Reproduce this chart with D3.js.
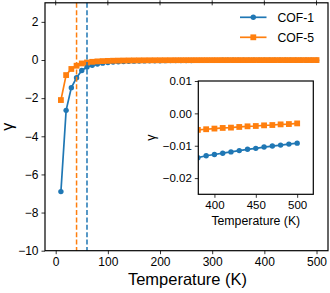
<!DOCTYPE html>
<html>
<head>
<meta charset="utf-8">
<script src="https://cdn.jsdelivr.net/npm/d3@7"></script>
<style>
  body { margin: 0; background: #fff; }
  svg { font-family: "Liberation Sans", Arial, sans-serif; }
</style>
</head>
<body>
<div id="chart"></div>
<script>
// Data
const temps = d3.range(10, 501, 10);
const cof1 = [-6.9, -2.64, -1.45, -0.93, -0.55, -0.37, -0.28, -0.21, -0.165, -0.135,
  -0.11, -0.093, -0.08, -0.069, -0.061, -0.054, -0.048, -0.043, -0.039, -0.036,
  -0.033, -0.030, -0.028, -0.026, -0.0245, -0.023, -0.0215, -0.0203, -0.0192, -0.0182,
  -0.0173, -0.0165, -0.0158, -0.0153, -0.0148, -0.0144, -0.0141, -0.0137, -0.0131, -0.0127,
  -0.0123, -0.0119, -0.0115, -0.0111, -0.0108, -0.0104, -0.0101, -0.0098, -0.0095, -0.0092];
const cof5 = [-2.1, -0.79, -0.47, -0.3, -0.18, -0.13, -0.095, -0.072, -0.057, -0.046,
  -0.038, -0.032, -0.027, -0.023, -0.020, -0.018, -0.016, -0.0145, -0.013, -0.012,
  -0.011, -0.0102, -0.0095, -0.0089, -0.0084, -0.0079, -0.0075, -0.0071, -0.0068, -0.0065,
  -0.0063, -0.0061, -0.0059, -0.0057, -0.0055, -0.0054, -0.0052, -0.0051, -0.0049, -0.0047,
  -0.0045, -0.0044, -0.0042, -0.0040, -0.0039, -0.0037, -0.0036, -0.0034, -0.0033, -0.0031];
const seriesNames = ["COF-1", "COF-5"];
const transitionTemps = [40, 60]; // orange, blue dashed lines
const xTicks = [0, 100, 200, 300, 400, 500];
const yTicks = [2, 0, -2, -4, -6, -8, -10];
const insetXTicks = [400, 450, 500];
const insetYTicks = [0.01, 0, -0.01, -0.02];

const blue = "#1f77b4", orange = "#ff7f0e";
const series = [
  { name: seriesNames[0], values: cof1, color: blue, marker: "circle" },
  { name: seriesNames[1], values: cof5, color: orange, marker: "square" }
];

const W = 330, H = 293;
const svg = d3.select("#chart").append("svg")
  .attr("width", W).attr("height", H);

const minus = s => String(s).replace("-", "\u2212");

// Main axes box
const box = { left: 45, right: 328, top: 2.8, bottom: 250.7 };
const x = d3.scaleLinear().domain([-20.5, 522]).range([box.left, box.right]);
const y = d3.scaleLinear().domain([-10, 3]).range([box.bottom, box.top]);

function drawMarkers(g, s, xs, ys, r) {
  const pts = temps.map((t, i) => [xs(t), ys(s.values[i])]);
  g.append("path")
    .attr("d", d3.line()(pts))
    .attr("fill", "none")
    .attr("stroke", s.color)
    .attr("stroke-width", 1.7);
  if (s.marker === "circle") {
    g.selectAll(null).data(pts).enter().append("circle")
      .attr("cx", d => d[0]).attr("cy", d => d[1]).attr("r", r)
      .attr("fill", s.color);
  } else {
    g.selectAll(null).data(pts).enter().append("rect")
      .attr("x", d => d[0] - r).attr("y", d => d[1] - r)
      .attr("width", 2 * r).attr("height", 2 * r)
      .attr("fill", s.color);
  }
}

// Main data
const main = svg.append("g");
series.forEach(s => drawMarkers(main, s, x, y, s.marker === "circle" ? 2.7 : 2.9));

// Dashed transition lines
svg.selectAll(".vline")
  .data(transitionTemps)
  .enter().append("line")
  .attr("x1", d => x(d)).attr("x2", d => x(d))
  .attr("y1", box.top).attr("y2", box.bottom)
  .attr("stroke", (d, i) => i === 0 ? orange : blue)
  .attr("stroke-width", 1.5)
  .attr("stroke-dasharray", "5,2.4");

// Axes
const xAxis = svg.append("g")
  .attr("transform", `translate(0,${box.bottom})`)
  .call(d3.axisBottom(x).tickValues(xTicks).tickSize(3.5).tickPadding(3));
const yAxis = svg.append("g")
  .attr("transform", `translate(${box.left},0)`)
  .call(d3.axisLeft(y).tickValues(yTicks).tickSize(3.5).tickPadding(3).tickFormat(minus));
[xAxis, yAxis].forEach(g => {
  g.select(".domain").remove();
  g.selectAll("text").attr("font-size", 12).attr("fill", "#000").attr("font-family", "Liberation Sans, Arial, sans-serif");
  g.selectAll("line").attr("stroke", "#000").attr("stroke-width", 0.8);
});
// top ticks
svg.selectAll(".toptick").data(xTicks).enter().append("line")
  .attr("x1", d => x(d)).attr("x2", d => x(d))
  .attr("y1", box.top - 2.5).attr("y2", box.top + 2.5)
  .attr("stroke", "#000").attr("stroke-width", 0.8);

svg.append("rect")
  .attr("x", box.left).attr("y", box.top)
  .attr("width", box.right - box.left).attr("height", box.bottom - box.top)
  .attr("fill", "none").attr("stroke", "#000").attr("stroke-width", 1.2);

svg.append("text")
  .attr("x", (box.left + box.right) / 2 + 1).attr("y", 285)
  .attr("text-anchor", "middle").attr("font-size", 16.5)
  .text("Temperature (K)");
svg.append("text")
  .attr("transform", `translate(13,${(box.top + box.bottom) / 2}) rotate(-90)`)
  .attr("text-anchor", "middle").attr("font-size", 16)
  .text("\u03b3");

// Legend
const legend = svg.append("g");
series.forEach((s, i) => {
  const ly = 17.3 + i * 20;
  legend.append("line").attr("x1", 240).attr("x2", 266.5)
    .attr("y1", ly).attr("y2", ly)
    .attr("stroke", s.color).attr("stroke-width", 1.7);
  if (s.marker === "circle") {
    legend.append("circle").attr("cx", 253.3).attr("cy", ly).attr("r", 2.7).attr("fill", s.color);
  } else {
    legend.append("rect").attr("x", 253.3 - 2.9).attr("y", ly - 2.9)
      .attr("width", 5.8).attr("height", 5.8).attr("fill", s.color);
  }
  legend.append("text").attr("x", 277.5).attr("y", ly + 4.4)
    .attr("font-size", 12.2).text(s.name);
});

// Inset
const ib = { left: 198.3, right: 313.3, top: 81, bottom: 194.3 };
const ix = d3.scaleLinear().domain([380.5, 519.5]).range([ib.left, ib.right]);
const iy = d3.scaleLinear().domain([-0.025, 0.01]).range([ib.bottom, ib.top]);

svg.append("rect")
  .attr("x", ib.left).attr("y", ib.top)
  .attr("width", ib.right - ib.left).attr("height", ib.bottom - ib.top)
  .attr("fill", "#fff");

svg.append("clipPath").attr("id", "insetclip")
  .append("rect")
  .attr("x", ib.left).attr("y", ib.top)
  .attr("width", ib.right - ib.left).attr("height", ib.bottom - ib.top);

const inset = svg.append("g").attr("clip-path", "url(#insetclip)");
series.forEach(s => drawMarkers(inset, s, ix, iy, s.marker === "circle" ? 2.7 : 2.9));

const ixAxis = svg.append("g")
  .attr("transform", `translate(0,${ib.bottom})`)
  .call(d3.axisBottom(ix).tickValues(insetXTicks).tickSize(3.5).tickPadding(3));
const iyAxis = svg.append("g")
  .attr("transform", `translate(${ib.left},0)`)
  .call(d3.axisLeft(iy).tickValues(insetYTicks).tickSize(3.5).tickPadding(3)
    .tickFormat(d => minus(d3.format(".2f")(d))));
[ixAxis, iyAxis].forEach(g => {
  g.select(".domain").remove();
  g.selectAll("text").attr("font-size", 11.5).attr("fill", "#000").attr("font-family", "Liberation Sans, Arial, sans-serif");
  g.selectAll("line").attr("stroke", "#000").attr("stroke-width", 0.8);
});

svg.append("rect")
  .attr("x", ib.left).attr("y", ib.top)
  .attr("width", ib.right - ib.left).attr("height", ib.bottom - ib.top)
  .attr("fill", "none").attr("stroke", "#000").attr("stroke-width", 1.2);

svg.append("text")
  .attr("x", (ib.left + ib.right) / 2).attr("y", 225)
  .attr("text-anchor", "middle").attr("font-size", 12.3)
  .text("Temperature (K)");
svg.append("text")
  .attr("transform", `translate(155,${(ib.top + ib.bottom) / 2}) rotate(-90)`)
  .attr("text-anchor", "middle").attr("font-size", 12.5)
  .text("\u03b3");
</script>
</body>
</html>
